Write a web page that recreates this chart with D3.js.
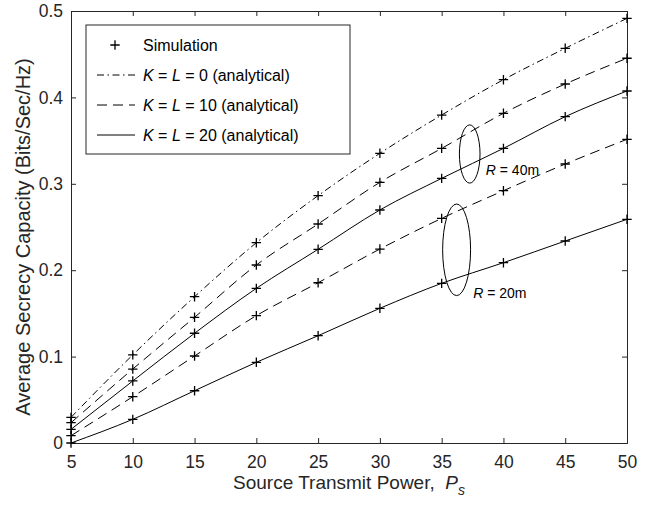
<!DOCTYPE html>
<html><head><meta charset="utf-8">
<script src="https://cdn.jsdelivr.net/npm/d3@7"></script>
<style>
body{margin:0;background:#fff;}
text{font-family:"Liberation Sans",Arial,Helvetica,sans-serif;}
</style></head>
<body><svg id="c" width="647" height="506"></svg>
<script>
const powers = [5,10,15,20,25,30,35,40,45,50];
const r40_kl0  = [0.0297,0.102,0.1693,0.2318,0.2863,0.3353,0.3796,0.4205,0.4568,0.4915];
const r40_kl10 = [0.0235,0.0856,0.1455,0.206,0.2535,0.3017,0.341,0.3816,0.4155,0.4453];
const r40_kl20 = [0.0158,0.0718,0.127,0.179,0.2242,0.2697,0.3063,0.341,0.3777,0.4074];
const r20_kl10 = [0.0085,0.0536,0.1007,0.1474,0.1855,0.2245,0.260,0.292,0.3229,0.3515];
const r20_kl20 = [0.0,0.0274,0.0605,0.0934,0.1242,0.1559,0.1848,0.2087,0.2338,0.2589];
const xTicks = [5,10,15,20,25,30,35,40,45,50];
const yTicks = [0,0.1,0.2,0.3,0.4,0.5];
const yTickLabels = ["0","0.1","0.2","0.3","0.4","0.5"];
const legendLabels = ["Simulation","K = L = 0 (analytical)","K = L = 10 (analytical)","K = L = 20 (analytical)"];
const ellipses = [{cx:37.27,cy:0.3345,rx:0.835,ry:0.0337,label:"40m",lx:38.57,ly:0.310},
                  {cx:36.21,cy:0.2236,rx:1.13,ry:0.053,label:"20m",lx:37.55,ly:0.1678}];

const series = [
  {v:r40_kl0, dash:"7,3.5,1.5,3.5"},
  {v:r40_kl10, dash:"10,6"},
  {v:r40_kl20, dash:null},
  {v:r20_kl10, dash:"10,6"},
  {v:r20_kl20, dash:null}
];

const ink = "#262626";
const svg = d3.select("#c");
const L=71,R=627,T=11,B=443;
const x = d3.scaleLinear().domain([5,50]).range([L,R]);
const y = d3.scaleLinear().domain([0,0.5]).range([B,T]);

// axes
const gx = svg.append("g").attr("transform",`translate(0,${B})`)
  .call(d3.axisBottom(x).tickValues(xTicks).tickSize(-5).tickPadding(13).tickFormat(d3.format("d")));
const gxt = svg.append("g").attr("transform",`translate(0,${T})`)
  .call(d3.axisTop(x).tickValues(xTicks).tickSize(-5).tickFormat(""));
const gy = svg.append("g").attr("transform",`translate(${L},0)`)
  .call(d3.axisLeft(y).tickValues(yTicks).tickSize(-5).tickPadding(8).tickFormat((d,i)=>yTickLabels[i]));
const gyr = svg.append("g").attr("transform",`translate(${R},0)`)
  .call(d3.axisRight(y).tickValues(yTicks).tickSize(-5).tickFormat(""));
[gx,gxt,gy,gyr].forEach(g=>{
  g.select(".domain").attr("stroke",ink).attr("stroke-width",1);
  g.selectAll(".tick line").attr("stroke",ink);
  g.selectAll("text").attr("fill",ink).style("font-size","17.5px");
});

// lines
const line = d3.line().x((d,i)=>x(powers[i])).y(d=>y(d)).curve(d3.curveMonotoneX);
series.forEach(s=>{
  svg.append("path").datum(s.v).attr("d",line).attr("fill","none")
    .attr("stroke","#000").attr("stroke-width",1)
    .attr("stroke-dasharray",s.dash);
});
// markers
const plus = (g,cx,cy,h)=>{
  g.append("path").attr("d",`M${cx-h},${cy}H${cx+h}M${cx},${cy-h}V${cy+h}`)
   .attr("stroke","#000").attr("stroke-width",1.3).attr("fill","none");
};
const mg = svg.append("g");
series.forEach(s=>s.v.forEach((v,i)=>plus(mg,x(powers[i]),y(v),4.7)));

// ellipses
ellipses.forEach(e=>{
  svg.append("ellipse").attr("cx",x(e.cx)).attr("cy",y(e.cy))
    .attr("rx",x(e.cx+e.rx)-x(e.cx)).attr("ry",y(e.cy)-y(e.cy+e.ry))
    .attr("fill","none").attr("stroke","#000").attr("stroke-width",1);
  const t = svg.append("text").attr("x",x(e.lx)).attr("y",y(e.ly)).style("font-size","14px").attr("fill","#000");
  t.append("tspan").attr("font-style","italic").text("R");
  t.append("tspan").text(" = "+e.label);
});

// legend
const lg = svg.append("g");
lg.append("rect").attr("x",86).attr("y",25).attr("width",264).attr("height",129)
  .attr("fill","#fff").attr("stroke",ink).attr("stroke-width",1);
const rowsY=[45,75,105,135];
plus(lg,115,rowsY[0],4.7);
const ldash=[series[0].dash,series[1].dash,null];
legendLabels.forEach((lab,i)=>{
  if(i>0){
    lg.append("line").attr("x1",97).attr("x2",135).attr("y1",rowsY[i]).attr("y2",rowsY[i])
      .attr("stroke","#000").attr("stroke-dasharray",ldash[i-1]);
  }
  const t = lg.append("text").attr("x",143).attr("y",rowsY[i]+5.5).style("font-size","16px").attr("fill","#000");
  if(i===0){ t.text(lab); }
  else {
    const m = lab.match(/^K = L = (\d+) (.*)$/);
    t.append("tspan").attr("font-style","italic").text("K");
    t.append("tspan").text(" = ");
    t.append("tspan").attr("font-style","italic").text("L");
    t.append("tspan").text(" = "+m[1]+" "+m[2]);
  }
});

// axis labels
const xl = svg.append("text").attr("x",349).attr("y",489).attr("text-anchor","middle")
  .style("font-size","19px").attr("fill",ink);
xl.append("tspan").text("Source Transmit Power,\u00a0 ");
xl.append("tspan").attr("font-style","italic").text("P");
xl.append("tspan").attr("font-style","italic").attr("dy",6).style("font-size","14px").text("s");
svg.append("text").attr("transform",`translate(30,237) rotate(-90)`).attr("text-anchor","middle")
  .style("font-size","20px").attr("fill",ink).text("Average Secrecy Capacity (Bits/Sec/Hz)");
</script></body></html>
